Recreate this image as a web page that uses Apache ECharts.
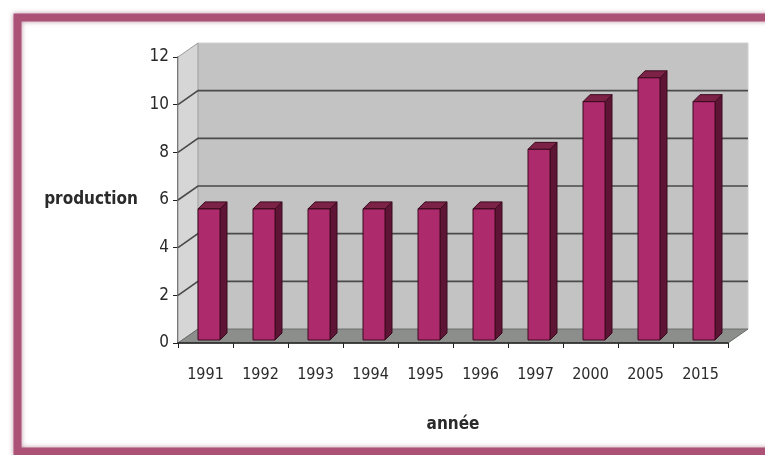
<!DOCTYPE html>
<html>
<head>
<meta charset="utf-8">
<script src="https://cdn.jsdelivr.net/npm/echarts@6/dist/echarts.min.js"></script>
<style>
  html, body { margin: 0; padding: 0; background: #fff; }
  #main { width: 765px; height: 455px; }
</style>
</head>
<body>
<div id="main"></div>
<script>
(function () {
  "use strict";

  var years = ['1991', '1992', '1993', '1994', '1995', '1996', '1997', '2000', '2005', '2015'];
  var production = [5.5, 5.5, 5.5, 5.5, 5.5, 5.5, 8, 10, 11, 10];
  var yTicks = [0, 2, 4, 6, 8, 10, 12];

  var narrow = "'Liberation Sans Narrow', 'DejaVu Sans Condensed', sans-serif";
  var depth = [20, -14];   // wall depth offset
  var barDepth = [7, -7];  // bar depth offset

  var chart = echarts.init(document.getElementById('main'));

  // walls, floor and gridlines of the pseudo 3d box
  function renderWalls(params, api) {
    var cs = params.coordSys;
    var x0 = cs.x, x1 = cs.x + cs.width;
    var yb = cs.y + cs.height, yt = cs.y;
    var dx = depth[0], dy = depth[1];
    var children = [];
    children.push({
      type: 'polygon',
      shape: { points: [[x0 + dx, yt + dy], [x1 + dx, yt + dy], [x1 + dx, yb + dy], [x0 + dx, yb + dy]] },
      style: { fill: '#c3c3c3', stroke: '#d0d0d0', lineWidth: 1 }
    });
    children.push({
      type: 'polygon',
      shape: { points: [[x0, yt], [x0 + dx, yt + dy], [x0 + dx, yb + dy], [x0, yb]] },
      style: { fill: '#d6d6d6', stroke: '#9a9a9a', lineWidth: 1 }
    });
    children.push({
      type: 'polygon',
      shape: { points: [[x0, yb], [x0 + dx, yb + dy], [x1 + dx, yb + dy], [x1, yb]] },
      style: { fill: '#8c8e8c', stroke: '#6a6a6a', lineWidth: 1 }
    });
    yTicks.forEach(function (v) {
      if (v === 0 || v === 12) return;
      var y = api.coord([0, v])[1];
      children.push({
        type: 'polyline',
        shape: { points: [[x0, y], [x0 + dx, y + dy], [x1 + dx, y + dy]] },
        style: { fill: null, stroke: '#4a4a4a', lineWidth: 1.6 }
      });
    });
    return { type: 'group', children: children };
  }

  function renderBar(params, api) {
    var idx = api.value(0);
    var top = api.coord([idx, api.value(1)]);
    var base = api.coord([idx, 0]);
    var w = api.size([1, 0])[0] * 0.4;
    var off = [3.5, -3];
    var l = top[0] - w / 2 + off[0], r = top[0] + w / 2 + off[0];
    var t = top[1] + off[1], b = base[1] + off[1];
    var bx = barDepth[0], by = barDepth[1];
    return {
      type: 'group',
      children: [{
        type: 'polygon',
        shape: { points: [[r, t], [r + bx, t + by], [r + bx, b + by], [r, b]] },
        style: { fill: '#5e1434', stroke: '#3a0a1e', lineWidth: 1 }
      }, {
        type: 'polygon',
        shape: { points: [[l, t], [l + bx, t + by], [r + bx, t + by], [r, t]] },
        style: { fill: '#7c2246', stroke: '#3a0a1e', lineWidth: 1 }
      }, {
        type: 'rect',
        shape: { x: l, y: t, width: r - l, height: b - t },
        style: { fill: '#ad2a6c', stroke: '#3a0a1e', lineWidth: 1 }
      }]
    };
  }

  var option = {
    backgroundColor: '#ffffff',
    animation: false,
    grid: { left: 178, right: 37, top: 57, bottom: 112 },
    graphic: [{
      type: 'rect',
      shape: { x: 17.5, y: 17.5, width: 760, height: 434 },
      style: { fill: null, stroke: '#ac5276', lineWidth: 8, shadowBlur: 5, shadowColor: 'rgba(120,40,70,0.5)' },
      z: 100
    }],
    xAxis: {
      type: 'category',
      data: years,
      name: 'année',
      nameLocation: 'middle',
      nameGap: 73,
      nameTextStyle: { fontFamily: narrow, fontSize: 17, fontWeight: 'bold', color: '#2a2a2a' },
      axisLine: { show: true, lineStyle: { color: '#222', width: 1.5 } },
      axisTick: { show: true, length: 5, lineStyle: { color: '#222' } },
      axisLabel: { fontFamily: narrow, fontSize: 16, color: '#2a2a2a', margin: 24 },
      splitLine: { show: false },
      z: 10
    },
    yAxis: {
      type: 'value',
      min: 0,
      max: 12,
      interval: 2,
      name: 'production',
      nameLocation: 'middle',
      nameRotate: 0,
      nameGap: 40,
      nameTextStyle: { fontFamily: narrow, fontSize: 17, fontWeight: 'bold', color: '#2a2a2a', align: 'right' },
      axisLine: { show: true, lineStyle: { color: '#222', width: 1.5 } },
      axisTick: { show: true, length: 5, lineStyle: { color: '#222' } },
      axisLabel: { fontFamily: narrow, fontSize: 17, color: '#2a2a2a', margin: 9 },
      splitLine: { show: false }
    },
    series: [{
      type: 'custom',
      renderItem: renderWalls,
      data: [[0, 0]],
      silent: true,
      z: 1
    }, {
      type: 'custom',
      renderItem: renderBar,
      data: production.map(function (v, i) { return [i, v]; }),
      z: 5
    }]
  };
  chart.setOption(option);
})();
</script>
</body>
</html>
